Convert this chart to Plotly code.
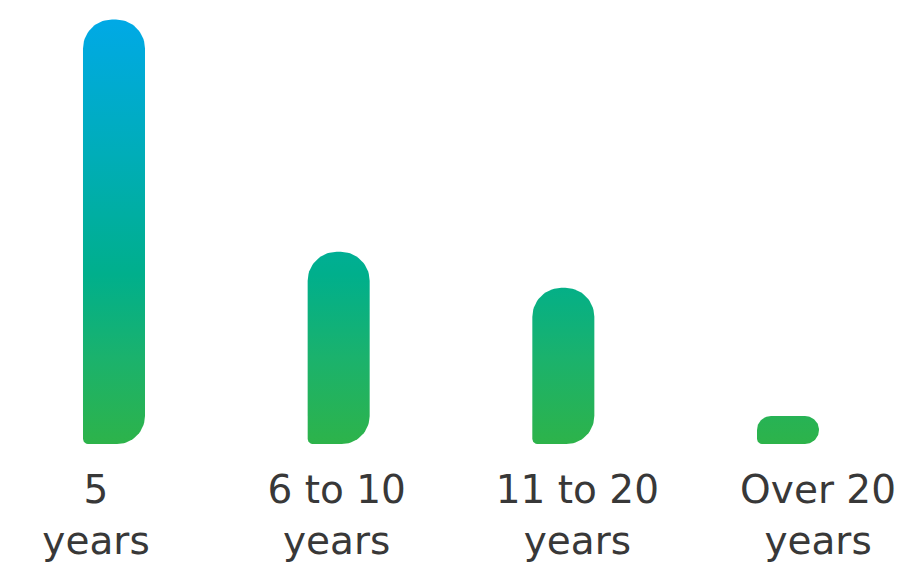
import numpy as np
import plotly.graph_objects as go

# ---- data ----
categories = ["5<br>years", "6 to 10<br>years", "11 to 20<br>years", "Over 20<br>years"]
values = [53, 24, 19.5, 3.5]

# ---- layout constants (pixels) ----
W, H = 912, 569
M_L, M_R, M_T, M_B = 0, 0, 10, 125
PLOT_W = W - M_L - M_R
PLOT_H = H - M_T - M_B
Y_MAX = 53 * PLOT_H / 424.5
X_RANGE = [-0.5074, -0.5074 + PLOT_W / 224.67]
X2_RANGE = [-0.399, -0.399 + PLOT_W / 240.67]
BAR_W = 0.276
R_TOP, R_BR, R_BL = 29, 28, 5

px_x = PLOT_W / (X_RANGE[1] - X_RANGE[0])
px_y = PLOT_H / Y_MAX

colorscale = [
    [0.0, "#2DB34A"],
    [0.2, "#1BB26C"],
    [0.4, "#00AF8C"],
    [0.68, "#00ADB8"],
    [1.0, "#00A9E6"],
]


def bar_path(xc, val):
    w = BAR_W * px_x
    h = val * px_y
    lim = min(w / 2, h / 2)
    rt, rbr, rbl = min(R_TOP, lim), min(R_BR, lim), min(R_BL, lim)
    pts = []

    def arc(cx, cy, r, a0, a1, n=20):
        for a in np.linspace(a0, a1, n):
            pts.append((cx + r * np.cos(a), cy + r * np.sin(a)))

    # pixel coords with origin at bar bottom-left, y up
    arc(rbl, rbl, rbl, np.pi, 1.5 * np.pi)          # bottom-left
    arc(w - rbr, rbr, rbr, 1.5 * np.pi, 2 * np.pi)  # bottom-right
    arc(w - rt, h - rt, rt, 0, 0.5 * np.pi)         # top-right
    arc(rt, h - rt, rt, 0.5 * np.pi, np.pi)         # top-left
    pts.append(pts[0])
    x0 = xc - BAR_W / 2
    xs = [x0 + p[0] / px_x for p in pts]
    ys = [p[1] / px_y for p in pts]
    return xs, ys


fig = go.Figure()
for i, v in enumerate(values):
    xs, ys = bar_path(i, v)
    fig.add_trace(go.Scatter(
        x=xs, y=ys, mode="lines", fill="toself",
        line=dict(width=0, color="rgba(0,0,0,0)"),
        fillgradient=dict(type="vertical", colorscale=colorscale,
                          start=0, stop=max(values)),
        hoverinfo="skip", showlegend=False,
    ))

# invisible trace carrying the category labels axis
fig.add_trace(go.Scatter(
    x=list(range(len(categories))), y=[0] * len(categories),
    xaxis="x2", mode="markers", marker=dict(opacity=0),
    hoverinfo="skip", showlegend=False,
))

fig.update_layout(
    width=W, height=H,
    margin=dict(l=M_L, r=M_R, t=M_T, b=M_B),
    paper_bgcolor="white", plot_bgcolor="white",
    xaxis=dict(range=X_RANGE, visible=False, fixedrange=True),
    xaxis2=dict(range=X2_RANGE, overlaying="x", anchor="y", side="bottom",
                tickvals=list(range(len(categories))), ticktext=categories,
                showgrid=False, zeroline=False, showline=False, ticks="",
                tickfont=dict(family="DejaVu Sans", size=39, color="#383838"),
                ticklabelstandoff=19),
    yaxis=dict(range=[0, Y_MAX], visible=False, fixedrange=True),
)

fig.write_html("out.html")
